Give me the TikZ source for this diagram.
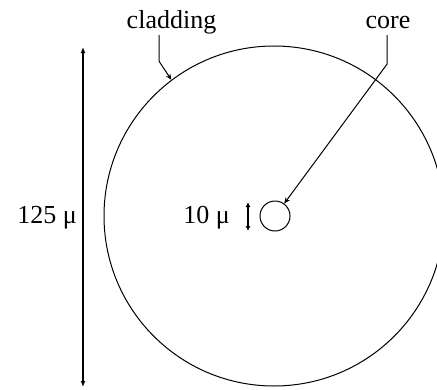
\documentclass[tikz,border=0pt]{standalone}
\usepackage{fontspec}
\setmainfont{Liberation Serif}
\usetikzlibrary{arrows.meta}
\begin{document}
\begin{tikzpicture}[x=1pt,y=-1pt,
  lab/.style={font=\fontsize{26}{28}\selectfont, inner sep=1pt, text depth=6pt},
  ring/.style={circle, draw, line width=1pt, inner sep=0pt},
  leader/.style={draw, line width=1pt, -{Stealth[length=6pt,width=5pt]}},
  dimarrow/.style={draw, line width=1.4pt, {Latex[length=6pt,width=5pt]}-{Latex[length=6pt,width=5pt]}},
  smalldim/.style={draw, line width=1.2pt, {Latex[length=5pt,width=5pt]}-{Latex[length=5pt,width=5pt]}}]
\useasboundingbox (0,0) rectangle (437,389);
\begin{scope}
\clip (0,0) rectangle (437,389);
\node[ring, minimum size=340pt] (clad) at (274,216) {};
\end{scope}
\node[ring, minimum size=30pt] (core) at (275,216) {};
\node[lab, anchor=base] (cladlab) at (171.5,28) {cladding};
\node[lab, anchor=base] (corelab) at (388,28) {core};
\node[lab, anchor=base east] (dbig) at (78,223) {125 μ};
\node[lab, anchor=base east] (dsmall) at (231,223) {10 μ};
\coordinate (dtop) at (83,47);
\coordinate (dbot) at (83,387);
\coordinate (stop) at (248,202);
\coordinate (sbot) at (248,231);
\draw[dimarrow] (dtop) -- (dbot);
\draw[smalldim] (stop) -- (sbot);
\draw[leader] ([xshift=-12.5pt]cladlab.south) -- ++(0,26) -- (clad.127.3);
\draw[leader] ([xshift=-1pt]corelab.south) -- ++(0,29) coordinate (bend) -- (core);
\end{tikzpicture}
\end{document}
